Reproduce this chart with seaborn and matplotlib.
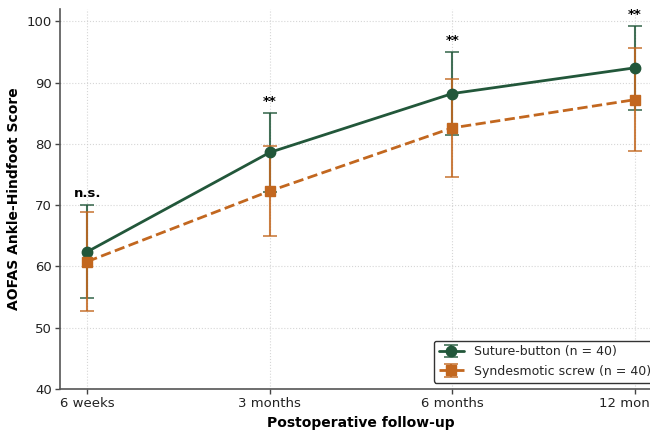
import numpy as np
import matplotlib
matplotlib.use("Agg")
import matplotlib.pyplot as plt
import seaborn as sns

timepoints = ["6 weeks", "3 months", "6 months", "12 months"]
button_mean = [62.4, 78.6, 88.2, 92.4]
button_sd = [7.6, 6.4, 6.8, 6.9]
screw_mean = [60.8, 72.3, 82.6, 87.2]
screw_sd = [8.1, 7.4, 8.0, 8.4]
annotations = ["n.s.", "**", "**", "**"]

sns.set_theme(style="whitegrid")
plt.rcParams['font.family'] = ['DejaVu Sans']

green = "#22573a"
orange = "#c2671f"

fig = plt.figure(figsize=(6.5, 4.3), dpi=100)
ax = fig.add_axes([60/650, (430-389)/430, (662-60)/650, (389-9)/430])

x = np.arange(len(timepoints))

eb1 = ax.errorbar(x, button_mean, yerr=button_sd, fmt='-o', color=green, lw=2,
                  markersize=7.5, capsize=5, elinewidth=1.5, capthick=1.2,
                  ecolor=green, label="Suture-button (n = 40)", zorder=3)
eb2 = ax.errorbar(x, screw_mean, yerr=screw_sd, fmt='--s', color=orange, lw=2,
                  markersize=7.5, capsize=5, elinewidth=1.5, capthick=1.2,
                  ecolor=orange, label="Syndesmotic screw (n = 40)", zorder=3)
for eb in (eb1, eb2):
    for c in eb[1]:
        c.set_alpha(0.85)
    for c in eb[2]:
        c.set_alpha(0.85)

for i, lab in enumerate(annotations):
    top = max(button_mean[i] + button_sd[i], screw_mean[i] + screw_sd[i])
    ax.text(x[i], top + 0.8, lab, ha='center', va='bottom', fontsize=9.5,
            fontweight='bold', color='black')

ax.set_xlim(-0.15, 3.15)
ax.set_ylim(40, 102)
ax.set_xticks(x)
ax.set_xticklabels(timepoints)
ax.set_yticks([40, 50, 60, 70, 80, 90, 100])
ax.tick_params(axis='both', labelsize=9.5, length=3.5, width=1, color='#444444',
               colors='#222222', bottom=True, left=True, pad=2.5)
ax.set_xlabel("Postoperative follow-up", fontsize=10, fontweight='bold',
              color='black', labelpad=4)
ax.set_ylabel("AOFAS Ankle-Hindfoot Score", fontsize=10, fontweight='bold',
              color='black', labelpad=4)
ax.grid(True, linestyle=':', color='#cccccc', linewidth=0.8, alpha=0.8)
sns.despine(ax=ax)
for s in ["left", "bottom"]:
    ax.spines[s].set_color('#555555')
    ax.spines[s].set_linewidth(1.2)

leg = ax.legend(loc='lower right', fontsize=9, frameon=True, framealpha=1,
                edgecolor='#333333', fancybox=True)
fig.savefig("out.png", dpi=100)
